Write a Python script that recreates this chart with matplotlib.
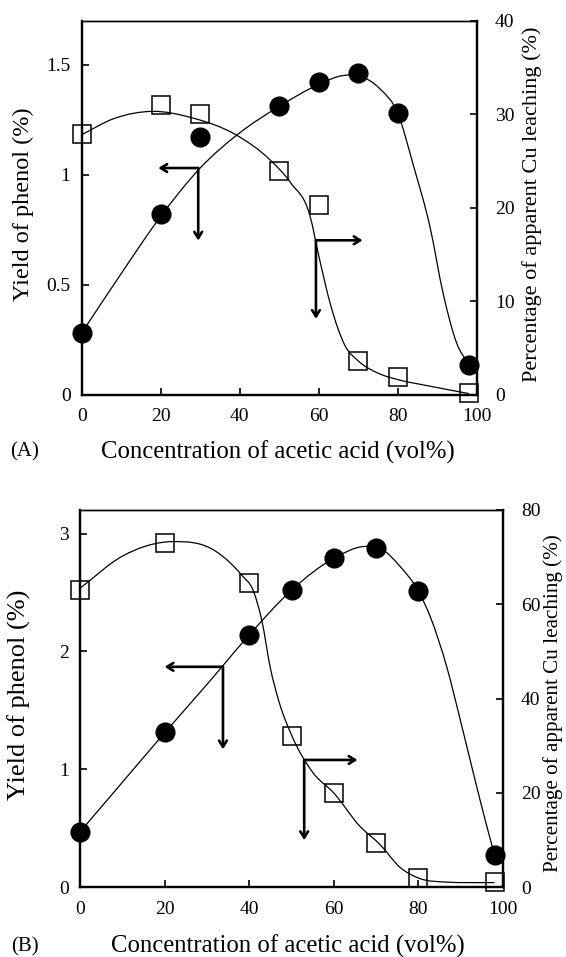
import matplotlib
matplotlib.use('Agg')
import matplotlib.pyplot as plt
from matplotlib.path import Path
from matplotlib.patches import PathPatch
import numpy as np

plt.rcParams['font.family'] = ['Liberation Serif', 'DejaVu Serif']

# ---- Panel A data ----
conc_a = [0, 20, 30, 50, 60, 70, 80, 98]
phenol_a = [0.28, 0.82, 1.17, 1.31, 1.42, 1.46, 1.28, 0.136]
cu_a = [27.9, 31.0, 30.0, 23.9, 20.3, 3.6, 1.9, 0.15]

# trend line knots, panel A
phenol_a_curve_x = [0, 10, 20, 30, 40, 50, 60, 66, 70, 75.5, 80, 84, 88.2, 91.5, 94.9, 98]
phenol_a_curve_y = [0.28, 0.55, 0.81, 1.03, 1.19, 1.31, 1.41, 1.45, 1.45, 1.39, 1.28, 1.04, 0.76, 0.46, 0.235,
                    0.136]
cu_a_curve_x = [0, 8, 18, 28, 39, 47.7, 53, 57.8, 60.2, 63, 66.7, 70, 75.5, 80, 88.2, 98]
cu_a_curve_y = [27.8, 29.5, 30.3, 29.6, 27.8, 25.1, 22.6, 19.1, 14.5, 9.6, 5.2, 3.6, 2.2, 1.6, 0.89, 0.1]

# ---- Panel B data ----
conc_b = [0, 20, 40, 50, 60, 70, 80, 98]
phenol_b = [0.47, 1.32, 2.14, 2.52, 2.79, 2.88, 2.51, 0.275]
cu_b = [63.0, 72.9, 64.5, 32.1, 20.0, 9.3, 1.9, 1.2]

phenol_b_curve_x = [0, 10, 20, 30, 40, 50, 60, 67, 71, 75.7, 80.2, 82.8, 86.7, 89.9, 93.0, 96.2, 98]
phenol_b_curve_y = [0.47, 0.89, 1.31, 1.72, 2.14, 2.52, 2.79, 2.89, 2.875, 2.72, 2.50, 2.295, 1.87, 1.42,
                    0.967, 0.514, 0.275]
cu_b_curve_x = [0, 10, 22, 32, 38.2, 41, 43, 45, 47, 50.1, 55, 60.1, 66, 71, 75.7, 80.2, 86.7, 92, 98]
cu_b_curve_y = [63.4, 70.2, 73.3, 71.3, 66.2, 62.8, 56.5, 46.5, 39.5, 32.1, 24.4, 19.9, 13.1, 9.0, 4.2, 1.9,
                1.1, 1.0, 1.0]

# arrow corners and tips (data coordinates of their own axis)
arrow_left_a = dict(corner=(29.5, 1.03), left_to=19.4, down_to=0.70)
arrow_right_a = dict(corner=(59.3, 16.5), right_to=71.1, down_to=8.1)
arrow_left_b = dict(corner=(33.8, 1.87), left_to=20.0, down_to=1.17)
arrow_right_b = dict(corner=(53.0, 27.0), right_to=65.6, down_to=10.0)

W, H = 566, 957


def smooth_line(ax, xs, ys):
    # cubic Hermite pieces (slopes from neighbouring knots) drawn as Bezier curves
    x = np.asarray(xs, float)
    y = np.asarray(ys, float)
    h = np.diff(x)
    s = np.diff(y) / h
    m = np.empty_like(y)
    m[0], m[-1] = s[0], s[-1]
    m[1:-1] = (h[:-1] * s[1:] + h[1:] * s[:-1]) / (h[:-1] + h[1:])
    verts = [(x[0], y[0])]
    codes = [Path.MOVETO]
    for i in range(len(x) - 1):
        d = h[i] / 3.0
        verts += [(x[i] + d, y[i] + m[i] * d), (x[i + 1] - d, y[i + 1] - m[i + 1] * d), (x[i + 1], y[i + 1])]
        codes += [Path.CURVE4] * 3
    ax.add_patch(PathPatch(Path(verts, codes), fill=False, lw=0.9, ec='black', zorder=2))


def corner_arrows(ax, spec, horiz_key):
    cx, cy = spec['corner']
    props = dict(arrowstyle='->,head_length=0.45,head_width=0.28', lw=1.9, color='black',
                 shrinkA=0, shrinkB=0)
    ax.annotate('', xy=(spec[horiz_key], cy), xytext=(cx, cy), arrowprops=props, zorder=3)
    ax.annotate('', xy=(cx, spec['down_to']), xytext=(cx, cy), arrowprops=props, zorder=3)


def panel(rect_px, x, phenol, cu, ph_curve, cu_curve, ylim_l, yticks_l, ylim_r, yticks_r):
    l, r, t, b = rect_px
    ax = fig.add_axes([l / W, 1 - b / H, (r - l) / W, (b - t) / H])
    ax2 = ax.twinx()
    ax.set_xlim(0, 100)
    ax.set_ylim(*ylim_l)
    ax2.set_ylim(*ylim_r)
    ax.set_xticks([0, 20, 40, 60, 80, 100])
    ax.set_yticks(yticks_l)
    ax.set_yticklabels(['%g' % v for v in yticks_l])
    ax2.set_yticks(yticks_r)
    ax.tick_params(axis='both', direction='in', length=5, width=1.2, labelsize=14)
    ax.tick_params(axis='x', pad=10)
    ax.tick_params(axis='y', pad=8)
    ax2.tick_params(axis='y', direction='in', length=5, width=1.2, labelsize=14, pad=13)
    for a in (ax, ax2):
        for s in ('left', 'right', 'bottom'):
            a.spines[s].set_linewidth(1.6)
        a.spines['top'].set_linewidth(1.0)

    smooth_line(ax, *ph_curve)
    smooth_line(ax2, *cu_curve)
    ax.plot(x, phenol, 'o', ms=13.5, color='black', zorder=4, clip_on=False)
    ax2.plot(x, cu, 's', ms=13, mfc='none', mec='black', mew=1.1, zorder=4, clip_on=False)
    return ax, ax2


fig = plt.figure(figsize=(W / 100, H / 100), dpi=100)

# Panel A
axA, axA2 = panel((81.7, 476.7, 20.7, 394.5), conc_a, phenol_a, cu_a,
                  (phenol_a_curve_x, phenol_a_curve_y), (cu_a_curve_x, cu_a_curve_y),
                  (0, 1.7), [0, 0.5, 1, 1.5], (0, 40), [0, 10, 20, 30, 40])
corner_arrows(axA, arrow_left_a, 'left_to')
corner_arrows(axA2, arrow_right_a, 'right_to')

# Panel B
axB, axB2 = panel((80, 503, 510, 887.3), conc_b, phenol_b, cu_b,
                  (phenol_b_curve_x, phenol_b_curve_y), (cu_b_curve_x, cu_b_curve_y),
                  (0, 3.2), [0, 1, 2, 3], (0, 80), [0, 20, 40, 60, 80])
corner_arrows(axB, arrow_left_b, 'left_to')
corner_arrows(axB2, arrow_right_b, 'right_to')

# Labels
def ftext(px, py, s, size, rot=0):
    fig.text(px / W, 1 - py / H, s, fontsize=size, rotation=rot, ha='center', va='center')

ftext(278, 452, 'Concentration of acetic acid (vol%)', 17.8)
ftext(24.5, 452, '(A)', 15)
ftext(23.6, 204, 'Yield of phenol (%)', 17.5, 90)
ftext(531.6, 204, 'Percentage of apparent Cu leaching (%)', 16, 90)

ftext(288, 946.5, 'Concentration of acetic acid (vol%)', 17.8)
ftext(24.5, 946.5, '(B)', 15)
ftext(19, 695, 'Yield of phenol (%)', 19, 90)
ftext(553, 703, 'Percentage of apparent Cu leaching (%)', 15.2, 90)

fig.savefig('out.png', dpi=100)
